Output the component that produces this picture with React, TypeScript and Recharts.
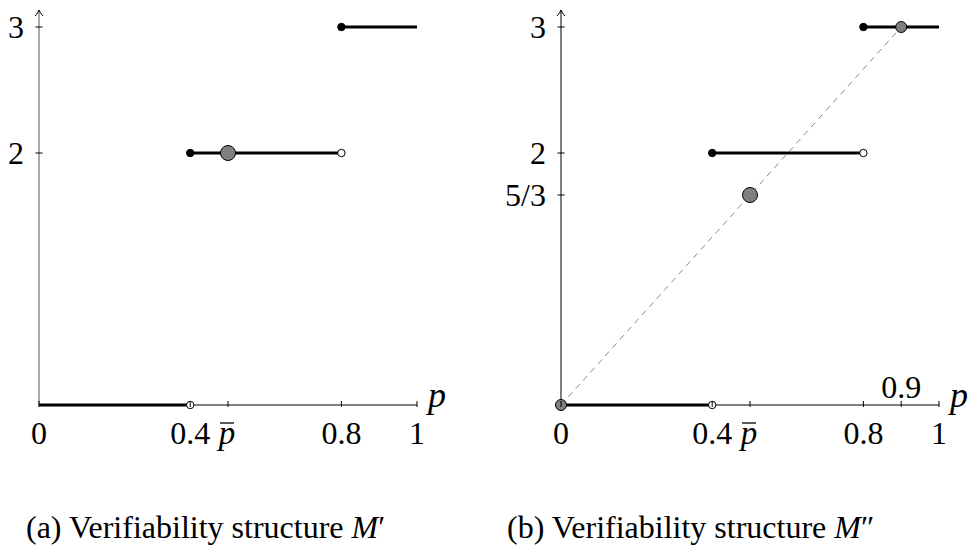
import React from 'react';
import { ComposedChart, Line, Scatter, XAxis, YAxis, ReferenceDot } from 'recharts';

const SERIF = '"Liberation Serif", "DejaVu Serif", serif';

// ---------- Panel (a): M' ----------
const segStartA = [0, 0.4, 0.8];
const segEndA = [0.4, 0.8, 1];
const segValueA = [0, 2, 3];
const closedPA = [0.4, 0.8];
const closedVA = [2, 3];
const openPA = [0.4, 0.8];
const openVA = [0, 2];
const grayBigPA = [0.5];
const grayBigVA = [2];
const xTicksA = [0, 0.4, 0.5, 0.8, 1];
const xTickLabelsA = ['0', '0.4', 'p̄', '0.8', '1'];
const yTicksA = [2, 3];
const yTickLabelsA = ['2', '3'];

// ---------- Panel (b): M'' ----------
const segStartB = [0, 0.4, 0.8];
const segEndB = [0.4, 0.8, 1];
const segValueB = [0, 2, 3];
const closedPB = [0.4, 0.8];
const closedVB = [2, 3];
const openPB = [0.4, 0.8];
const openVB = [0, 2];
const grayBigPB = [0.5];
const grayBigVB = [5 / 3];
const graySmallPB = [0, 0.9];
const graySmallVB = [0, 3];
const dashPB = [0, 0.9];
const dashVB = [0, 3];
const xTicksB = [0, 0.4, 0.5, 0.8, 0.9, 1];
const xTickLabelsB = ['0', '0.4', 'p̄', '0.8', '0.9', '1'];
const xTicksAboveB = [0.9];
const yTicksB = [5 / 3, 2, 3];
const yTickLabelsB = ['5/3', '2', '3'];

const Y_MAX = 3.135;
const captionA = '(a) Verifiability structure ';
const captionB = '(b) Verifiability structure ';

const pts = (ps: number[], vs: number[]) => ps.map((p, i) => ({ p, v: vs[i] }));

const makeXTick = (ticks: number[], labels: string[], above: number[]) => (props: any) => {
  const { x, y, payload } = props;
  const i = ticks.findIndex((t) => Math.abs(t - payload.value) < 1e-6);
  const label = i >= 0 ? labels[i] : '';
  const isAbove = above.some((a) => Math.abs(a - payload.value) < 1e-6);
  return (
    <g>
      <line x1={x} x2={x} y1={y - 4} y2={y + 2} stroke="#000" strokeWidth={1} />
      {label === 'p̄' ? (
        <g>
          <text x={x - 1} y={y + 39} textAnchor="middle" fontStyle="italic" fontSize={33} fontFamily={SERIF} fill="#000">p</text>
          <line x1={x - 8} x2={x + 6} y1={y + 18} y2={y + 18} stroke="#000" strokeWidth={1.3} />
        </g>
      ) : (
        <text x={x} y={isAbove ? y - 7 : y + 39} textAnchor="middle" fontSize={32} fontFamily={SERIF} fill="#000">{label}</text>
      )}
    </g>
  );
};

const makeYTick = (ticks: number[], labels: string[]) => (props: any) => {
  const { x, y, payload } = props;
  const i = ticks.findIndex((t) => Math.abs(t - payload.value) < 1e-6);
  const label = i >= 0 ? labels[i] : '';
  return (
    <g>
      <line x1={x - 3.5} x2={x + 3.5} y1={y} y2={y} stroke="#000" strokeWidth={1} />
      <text x={x - 15} y={y + 10.5} textAnchor="end" fontSize={32} fontFamily={SERIF} fill="#000">{label}</text>
    </g>
  );
};

const closedDot = (props: any) => <circle cx={props.cx} cy={props.cy} r={3.7} fill="#000" stroke="#000" strokeWidth={1} />;
const openDot = (props: any) => <circle cx={props.cx} cy={props.cy} r={3.7} fill="#fff" stroke="#000" strokeWidth={1} />;
const grayBig = (props: any) => <circle cx={props.cx} cy={props.cy} r={7.5} fill="#808080" stroke="#000" strokeWidth={1} />;
const graySmall = (props: any) => <circle cx={props.cx} cy={props.cy} r={5.5} fill="#808080" stroke="#000" strokeWidth={1} />;
const arrowHead = (props: any) => (
  <path
    d={`M ${props.cx - 4} ${props.cy + 6} Q ${props.cx - 1} ${props.cy + 3} ${props.cx} ${props.cy} Q ${props.cx + 1} ${props.cy + 3} ${props.cx + 4} ${props.cy + 6}`}
    fill="none"
    stroke="#000"
    strokeWidth={1}
  />
);
const pLabel = (props: any) => (
  <text x={props.cx + 20} y={props.cy + 2} textAnchor="middle" fontStyle="italic" fontSize={36} fontFamily={SERIF} fill="#000">p</text>
);

const segments = (starts: number[], ends: number[], values: number[]) =>
  starts.map((s, i) => (
    <Line
      key={`seg${i}`}
      data={[{ p: s, v: values[i] }, { p: ends[i], v: values[i] }]}
      dataKey="v"
      stroke="#000"
      strokeWidth={3}
      dot={false}
      activeDot={false}
      isAnimationActive={false}
    />
  ));

const captionStyle: React.CSSProperties = {
  position: 'absolute',
  top: 509,
  fontSize: 32,
  lineHeight: '36px',
  fontFamily: SERIF,
  color: '#000',
  whiteSpace: 'nowrap',
};

export default function App() {
  return (
    <div style={{ position: 'absolute', left: 0, top: 0, width: 969, height: 550, background: '#fff', fontFamily: SERIF }}>
      <div style={{ position: 'absolute', left: 0, top: 0 }}>
        <ComposedChart width={480} height={470} margin={{ top: 10, right: 63, left: 0, bottom: 0 }}>
          <XAxis
            type="number"
            dataKey="p"
            domain={[0, 1]}
            ticks={xTicksA}
            interval={0}
            tickSize={0}
            tickMargin={0}
            tickLine={false}
            height={65}
            axisLine={{ stroke: '#000', strokeWidth: 1 }}
            tick={makeXTick(xTicksA, xTickLabelsA, [])}
          />
          <YAxis
            type="number"
            dataKey="v"
            domain={[0, Y_MAX]}
            ticks={yTicksA}
            interval={0}
            width={39}
            tickSize={0}
            tickMargin={0}
            tickLine={false}
            axisLine={{ stroke: '#555', strokeWidth: 1 }}
            tick={makeYTick(yTicksA, yTickLabelsA)}
          />
          {segments(segStartA, segEndA, segValueA)}
          <Scatter data={pts(closedPA, closedVA)} dataKey="v" shape={closedDot} isAnimationActive={false} />
          <Scatter data={pts(openPA, openVA)} dataKey="v" shape={openDot} isAnimationActive={false} />
          <Scatter data={pts(grayBigPA, grayBigVA)} dataKey="v" shape={grayBig} isAnimationActive={false} />
          <ReferenceDot x={0} y={Y_MAX} r={0} shape={arrowHead} />
          <ReferenceDot x={1} y={0} r={0} shape={pLabel} />
        </ComposedChart>
      </div>
      <div style={{ position: 'absolute', left: 480, top: 0 }}>
        <ComposedChart width={489} height={470} margin={{ top: 10, right: 30, left: 0, bottom: 0 }}>
          <XAxis
            type="number"
            dataKey="p"
            domain={[0, 1]}
            ticks={xTicksB}
            interval={0}
            tickSize={0}
            tickMargin={0}
            tickLine={false}
            height={65}
            axisLine={{ stroke: '#000', strokeWidth: 1 }}
            tick={makeXTick(xTicksB, xTickLabelsB, xTicksAboveB)}
          />
          <YAxis
            type="number"
            dataKey="v"
            domain={[0, Y_MAX]}
            ticks={yTicksB}
            interval={0}
            width={81}
            tickSize={0}
            tickMargin={0}
            tickLine={false}
            axisLine={{ stroke: '#000', strokeWidth: 1 }}
            tick={makeYTick(yTicksB, yTickLabelsB)}
          />
          <Line
            data={pts(dashPB, dashVB)}
            dataKey="v"
            stroke="#8a8a8a"
            strokeWidth={1}
            strokeDasharray="6 5"
            dot={false}
            activeDot={false}
            isAnimationActive={false}
          />
          {segments(segStartB, segEndB, segValueB)}
          <Scatter data={pts(closedPB, closedVB)} dataKey="v" shape={closedDot} isAnimationActive={false} />
          <Scatter data={pts(openPB, openVB)} dataKey="v" shape={openDot} isAnimationActive={false} />
          <Scatter data={pts(grayBigPB, grayBigVB)} dataKey="v" shape={grayBig} isAnimationActive={false} />
          <Scatter data={pts(graySmallPB, graySmallVB)} dataKey="v" shape={graySmall} isAnimationActive={false} />
          <ReferenceDot x={0} y={Y_MAX} r={0} shape={arrowHead} />
          <ReferenceDot x={1} y={0} r={0} shape={pLabel} />
        </ComposedChart>
      </div>
      <div style={{ ...captionStyle, left: 26 }}>
        {captionA}
        <i>M</i>′
      </div>
      <div style={{ ...captionStyle, left: 507 }}>
        {captionB}
        <i>M</i>″
      </div>
    </div>
  );
}
